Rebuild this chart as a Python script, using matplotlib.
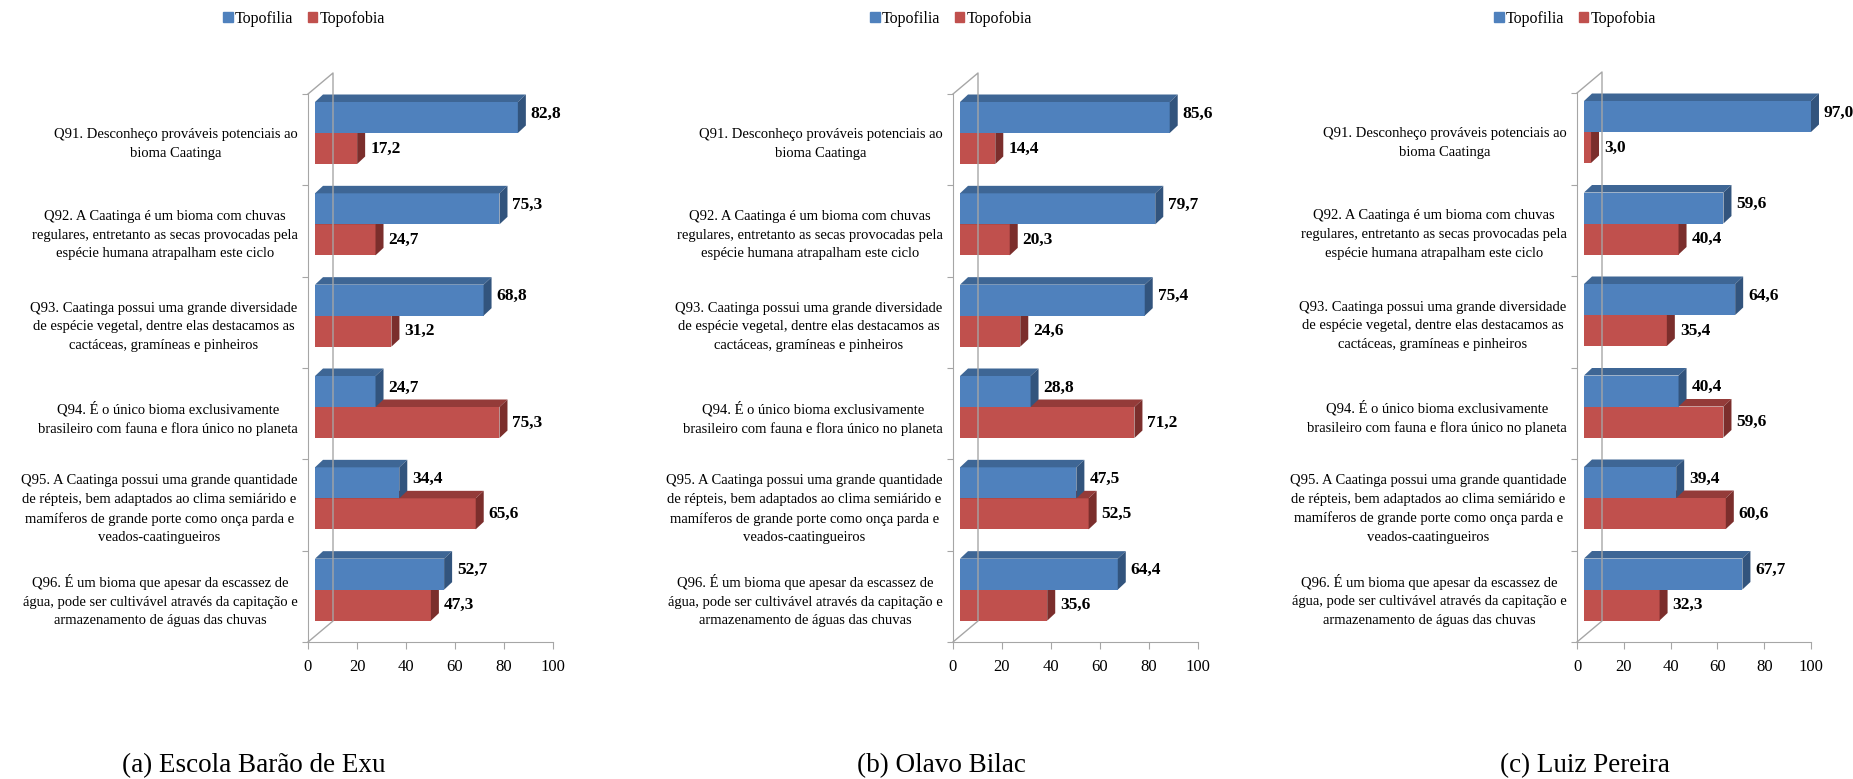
import numpy as np
import matplotlib
matplotlib.use("Agg")
import matplotlib.pyplot as plt
from matplotlib.patches import Polygon, Patch

plt.rcParams['font.family'] = ['Liberation Serif', 'DejaVu Serif']

questions = [
    "Q91. Desconheço prováveis potenciais ao\nbioma Caatinga",
    "Q92. A Caatinga é um bioma com chuvas\nregulares, entretanto as secas provocadas pela\nespécie humana atrapalham este ciclo",
    "Q93. Caatinga possui uma grande diversidade\nde espécie vegetal, dentre elas destacamos as\ncactáceas, gramíneas e pinheiros",
    "Q94. É o único bioma exclusivamente\nbrasileiro com fauna e flora único no planeta",
    "Q95. A Caatinga possui uma grande quantidade\nde répteis, bem adaptados ao clima semiárido e\nmamíferos de grande porte como onça parda e\nveados-caatingueiros",
    "Q96. É um bioma que apesar da escassez de\nágua, pode ser cultivável através da capitação e\narmazenamento de águas das chuvas",
]
series_names = ["Topofilia", "Topofobia"]
captions = ["(a) Escola Barão de Exu", "(b) Olavo Bilac", "(c) Luiz Pereira"]

topofilia_a = [82.8, 75.3, 68.8, 24.7, 34.4, 52.7]
topofobia_a = [17.2, 24.7, 31.2, 75.3, 65.6, 47.3]
topofilia_b = [85.6, 79.7, 75.4, 28.8, 47.5, 64.4]
topofobia_b = [14.4, 20.3, 24.6, 71.2, 52.5, 35.6]
topofilia_c = [97.0, 59.6, 64.6, 40.4, 39.4, 67.7]
topofobia_c = [3.0, 40.4, 35.4, 59.6, 60.6, 32.3]
xticks = [0, 20, 40, 60, 80, 100]

# front / top / side shades
blue = ("#4F81BD", "#3E6695", "#32547D")
red = ("#C0504D", "#943B39", "#7B2E2C")
gray = "#A6A6A6"

W, H = 1853, 779
fig = plt.figure(figsize=(W / 100, H / 100), dpi=100)


def fx(px):
    return px / W


def fy(py):
    return 1 - py / H


def fmt(v):
    return f"{v:.1f}".replace(".", ",")


def draw_bar(ax, top, v, shades, ppu, ppc, lab_dy):
    fh = 31 / ppc
    sx = 7 / ppu
    bdx, bdy = 8 / ppu, 7.5 / ppc
    bars = ax.barh(top + fh / 2, v, height=fh, left=sx, color=shades[0], lw=0)
    for b in bars:
        b.set_clip_on(False)
    x1 = sx + v
    ax.add_patch(Polygon([(sx, top), (x1, top), (x1 + bdx, top - bdy), (sx + bdx, top - bdy)],
                         closed=True, color=shades[1], lw=0, clip_on=False))
    ax.add_patch(Polygon([(x1, top), (x1 + bdx, top - bdy), (x1 + bdx, top + fh - bdy), (x1, top + fh)],
                         closed=True, color=shades[2], lw=0, clip_on=False))
    ax.text(x1 + bdx + 5 / ppu, top + fh / 2 - lab_dy / ppc, fmt(v), ha="left", va="center",
            fontsize=12.5, fontweight="bold", clip_on=False)


# x of 0, x of 100, top y, legend centre x, caption centre x (pixels)
panels = [
    (308, 553, 94, 304, 254, topofilia_a, topofobia_a, captions[0]),
    (953, 1198, 94, 951, 941, topofilia_b, topofobia_b, captions[1]),
    (1577, 1811, 93, 1575, 1585, topofilia_c, topofobia_c, captions[2]),
]
bottom = 642

for x0, x100, top, lx, cx, fil, fob, cap in panels:
    ax = fig.add_axes([fx(x0), fy(bottom), fx(x100) - fx(x0), (bottom - top) / H])
    ppu = (x100 - x0) / 100
    ppc = (bottom - top) / 6
    ax.set_xlim(0, 100)
    ax.set_ylim(6, 0)

    # 3D wall outline
    wdx, wdy = 25 / ppu, 21 / ppc
    ax.plot([0, wdx, wdx, 0], [0, -wdy, 6 - wdy, 6], color=gray, lw=1, clip_on=False)

    for s in ["top", "right"]:
        ax.spines[s].set_visible(False)
    for s in ["left", "bottom"]:
        ax.spines[s].set_color(gray)

    ax.set_xticks(xticks)
    ax.tick_params(axis="x", direction="out", length=5, color=gray, labelsize=12, pad=7)
    ax.set_yticks(np.arange(7))
    ax.tick_params(axis="y", which="major", direction="out", length=4, color=gray, labelleft=False)
    ax.set_yticks(np.arange(6) + 0.5, minor=True)
    ax.set_yticklabels(questions, minor=True)
    ax.tick_params(axis="y", which="minor", length=0, pad=7.5, labelsize=10.5)
    for t in ax.get_yticklabels(minor=True):
        t.set_multialignment("center")
        t.set_linespacing(1.55)

    blue_top = np.arange(6) + 8 / ppc
    red_top = blue_top + 31 / ppc
    for i in range(6):
        draw_bar(ax, red_top[i], fob[i], red, ppu, ppc, 0)
        draw_bar(ax, blue_top[i], fil[i], blue, ppu, ppc, 4)

    fig.legend(handles=[Patch(color=blue[0]), Patch(color=red[0])], labels=series_names,
               loc="center", bbox_to_anchor=(fx(lx), fy(19)), ncol=2, frameon=False,
               fontsize=11.5, handlelength=0.6, handleheight=0.6, handletextpad=0.15,
               columnspacing=0.9, borderpad=0)

    fig.text(fx(cx), fy(766), cap, ha="center", va="center", fontsize=19.5)

fig.savefig("out.png", dpi=100)
